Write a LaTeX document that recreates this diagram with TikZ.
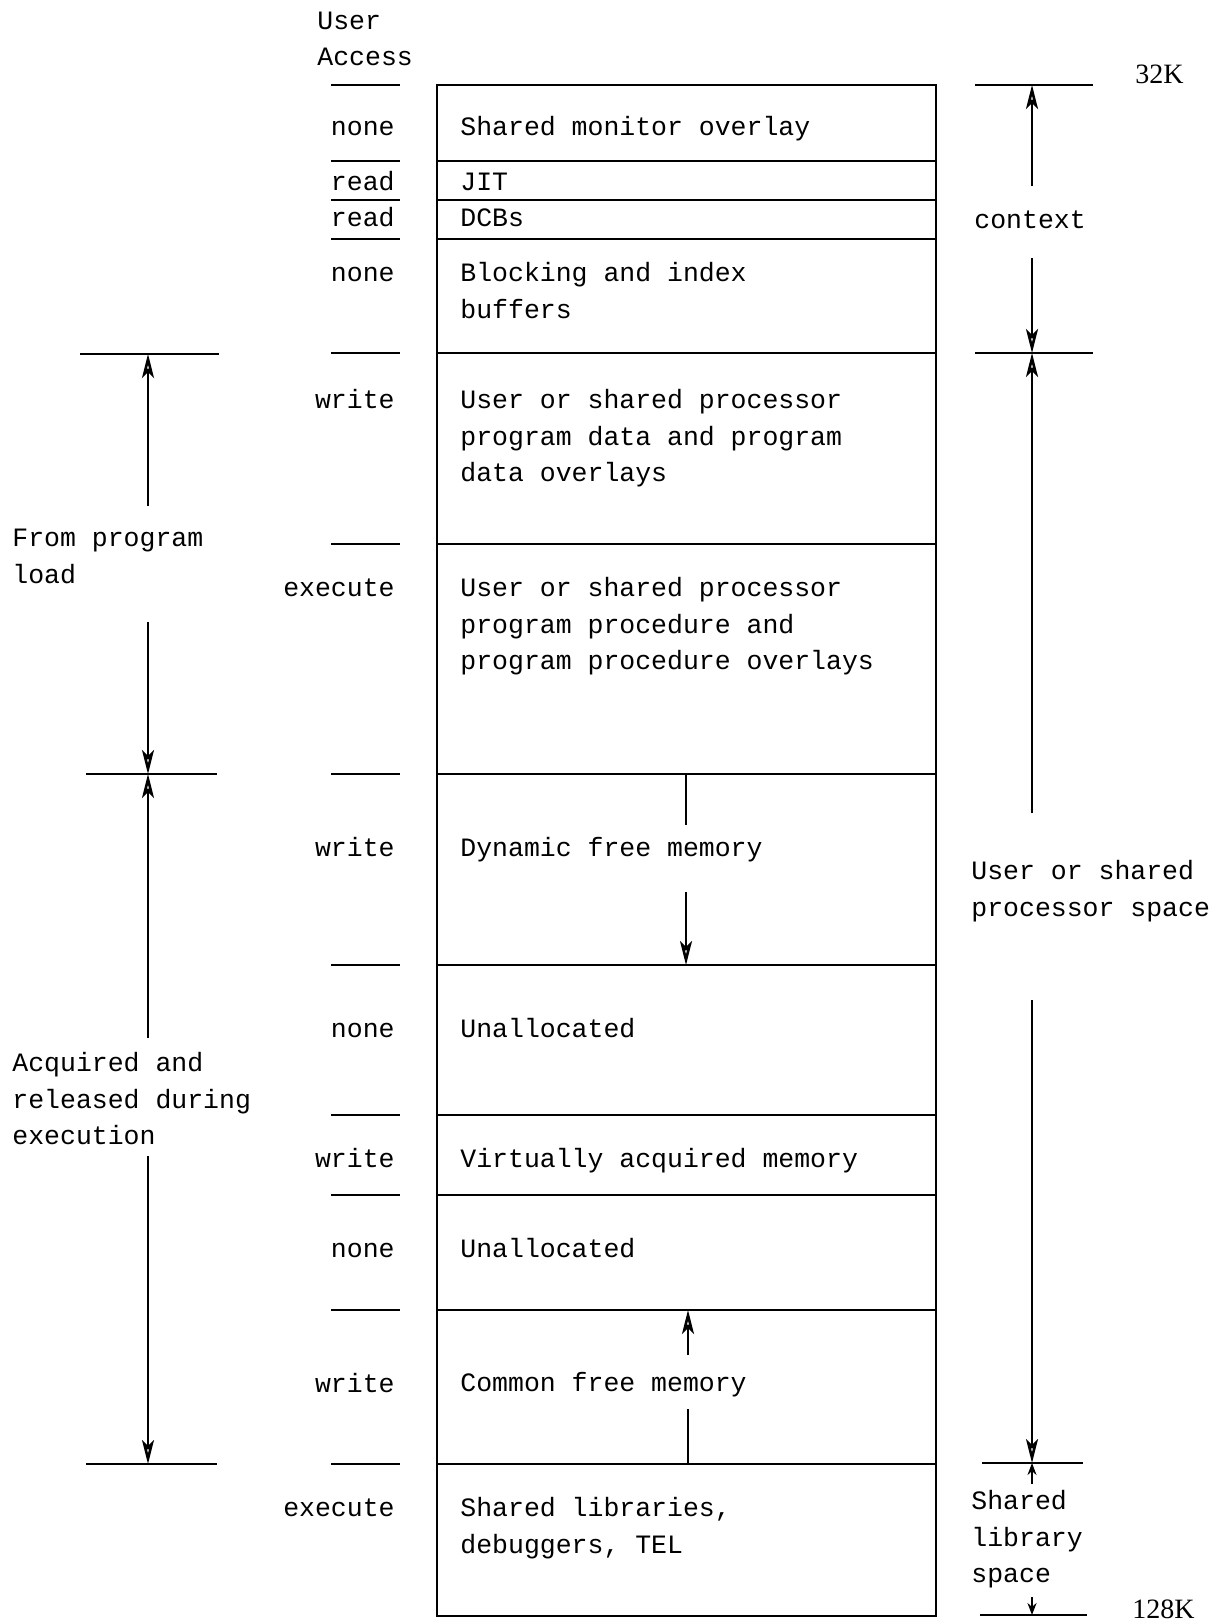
\documentclass[tikz,border=0pt]{standalone}
\usepackage{fontspec}
\setmainfont{Liberation Mono}
\newfontfamily\numfont{Liberation Serif}
\usetikzlibrary{arrows.meta}
\begin{document}
\begin{tikzpicture}[x=0.5pt,y=-0.5pt,
  txt/.style={anchor=base west,inner sep=0pt,align=left,
    font=\fontsize{13.25}{18.35}\selectfont},
  acc/.style={anchor=base east,inner sep=0pt,
    font=\fontsize{13.25}{18.35}\selectfont},
  num/.style={anchor=base west,inner sep=0pt,font=\numfont\fontsize{14}{16}\selectfont},
  rule/.style={line width=1.3pt},
  dimline/.style={line width=1.3pt},
  tipopen/.style={dimline,-{Stealth[open,length=12pt,width=6pt,inset=3pt]}},
  tipsmall/.style={dimline,-{Stealth[length=6pt,width=4.5pt]}}]
\useasboundingbox (0,0) rectangle (1226,1622);

% ---- main box ----
\draw[rule] (437,85) rectangle (936,1616);
\foreach \yy in {161,200,239,353,544,774,965,1115,1195,1310,1464}
  \draw[rule] (437,\yy) -- (936,\yy);

% ---- access column ----
\node[txt] (user) at (317,29) {User};
\node[txt] (access) at (317,65) {Access};
\foreach \yy in {85,161,200,239,353,544,774,965,1115,1195,1310,1464}
  \draw[rule] (331,\yy) -- (400,\yy);
\node[acc] (a1) at (395,135.5) {none};
\node[acc] (a2) at (395,190.5) {read};
\node[acc] (a3) at (395,226.5) {read};
\node[acc] (a4) at (395,281.5) {none};
\node[acc] (a5) at (395,408.5) {write};
\node[acc] (a6) at (395,596.5) {execute};
\node[acc] (a7) at (395,856.5) {write};
\node[acc] (a8) at (395,1037.5) {none};
\node[acc] (a9) at (395,1167.5) {write};
\node[acc] (a10) at (395,1257.5) {none};
\node[acc] (a11) at (395,1392) {write};
\node[acc] (a12) at (395,1516.5) {execute};

% ---- box contents (multi-line nodes: base = last line) ----
\node[txt] (r1) at (460,135.5) {Shared monitor overlay};
\node[txt] (r2) at (460,190.5) {JIT};
\node[txt] (r3) at (460,226.5) {DCBs};
\node[txt] (r4) at (460,318.2) {Blocking and index\\buffers};
\node[txt] (r5) at (460,481.9) {User or shared processor\\program data and program\\data overlays};
\node[txt] (r6) at (460,669.9) {User or shared processor\\program procedure and\\program procedure overlays};
\node[txt] (r7) at (460,856.5) {Dynamic free memory};
\node[txt] (r8) at (460,1037.5) {Unallocated};
\node[txt] (r9) at (460,1167.5) {Virtually acquired memory};
\node[txt] (r10) at (460,1257.5) {Unallocated};
\node[txt] (r11) at (460,1391.5) {Common free memory};
\node[txt] (r12) at (460,1553.2) {Shared libraries,\\debuggers, TEL};

% growth arrows inside the box
\coordinate (d1) at (686,774);
\coordinate (d2) at (686,825);
\coordinate (d3) at (686,892);
\coordinate (d4) at (686,965);
\draw[dimline] (d1) -- (d2);
\draw[tipopen] (d3) -- (d4);
\coordinate (c1) at (688,1355);
\coordinate (c2) at (688,1310);
\coordinate (c3) at (688,1409);
\coordinate (c4) at (688,1464);
\draw[tipopen] (c1) -- (c2);
\draw[dimline] (c3) -- (c4);

% ---- left dimensions ----
\draw[rule] (80,354) -- (219,354);
\draw[rule] (86,774) -- (217,774);
\draw[rule] (86,1464) -- (217,1464);
\coordinate (L1) at (148,354);
\coordinate (L2) at (148,506);
\coordinate (L3) at (148,622);
\coordinate (L4) at (148,774);
\coordinate (L5) at (148,1038);
\coordinate (L6) at (148,1156);
\coordinate (L7) at (148,1464);
\draw[tipopen] (L2) -- (L1);
\draw[tipopen] (L3) -- (L4);
\draw[tipopen] (L5) -- (L4);
\draw[tipopen] (L6) -- (L7);
\node[txt] (load) at (12,583.2) {From program\\load};
\node[txt] (acq) at (12,1144.9) {Acquired and\\released during\\execution};

% ---- right dimensions ----
\draw[rule] (975,85) -- (1093,85);
\draw[rule] (975,353) -- (1093,353);
\draw[rule] (982,1463) -- (1083,1463);
\draw[rule] (980,1615) -- (1087,1615);
\coordinate (R1) at (1032,85);
\coordinate (R2) at (1032,186);
\coordinate (R3) at (1032,258);
\coordinate (R4) at (1032,353);
\coordinate (R5) at (1032,813);
\coordinate (R6) at (1032,1000);
\coordinate (R7) at (1032,1463);
\coordinate (R8) at (1032,1484);
\coordinate (R9) at (1032,1597);
\coordinate (R10) at (1032,1615);
\draw[tipopen] (R2) -- (R1);
\draw[tipopen] (R3) -- (R4);
\draw[tipopen] (R5) -- (R4);
\draw[tipopen] (R6) -- (R7);
\draw[tipsmall] (R8) -- (R7);
\draw[tipsmall] (R9) -- (R10);
\node[txt] (ctx) at (974,228.5) {context};
\node[txt] (ups) at (971,916.2) {User or shared\\processor space};
\node[txt] (sls) at (971,1582.9) {Shared\\library\\space};
\node[num] (k32) at (1135,83) {32K};
\node[num] (k128) at (1132,1618) {128K};
\end{tikzpicture}
\end{document}
